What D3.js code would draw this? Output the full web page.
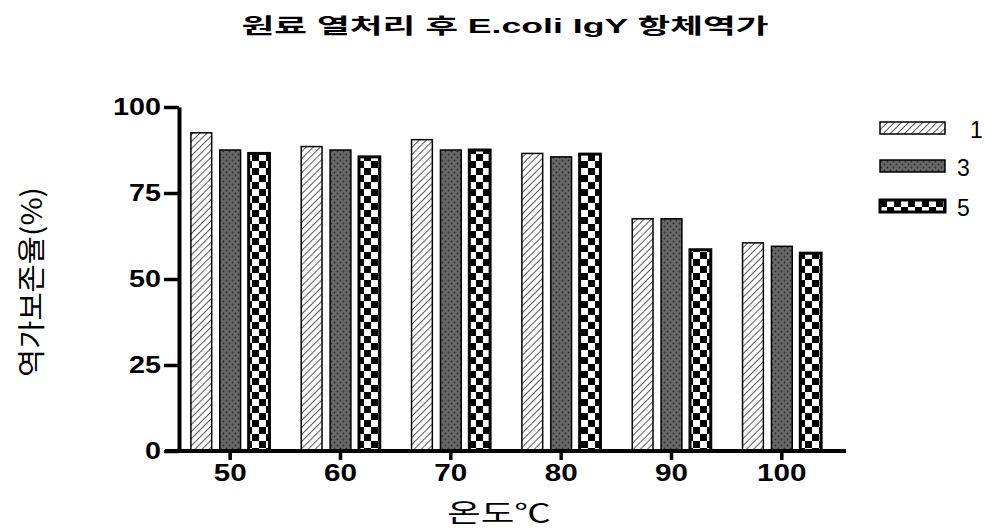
<!DOCTYPE html>
<html>
<head>
<meta charset="utf-8">
<script src="https://cdn.jsdelivr.net/npm/d3@7"></script>
<style>
  body { margin: 0; background: #fff; }
  text { fill: #000; }
</style>
</head>
<body>
<div id="chart"></div>
<script>
// temperatures (x categories) and the three series (1, 3, 5)
const temps = ["50", "60", "70", "80", "90", "100"];
const seriesNames = ["1", "3", "5"];
const s1 = [92.5, 88.5, 90.5, 86.5, 67.5, 60.5];
const s3 = [87.5, 87.5, 87.5, 85.5, 67.5, 59.5];
const s5 = [86.5, 85.5, 87.5, 86.3, 58.5, 57.5];
const yTicks = [0, 25, 50, 75, 100];

const W = 985, H = 531;
const kr = "'Noto Sans CJK KR', sans-serif";
const latin = "'Liberation Sans', Arial, sans-serif";

const svg = d3.select("#chart").append("svg")
    .attr("width", W)
    .attr("height", H);

// patterns
const defs = svg.append("defs");

const hatch = defs.append("pattern")
    .attr("id", "hatch")
    .attr("patternUnits", "userSpaceOnUse")
    .attr("width", 5).attr("height", 5)
    .attr("patternTransform", "rotate(45)");
hatch.append("rect").attr("width", 5).attr("height", 5).attr("fill", "#fff");
hatch.append("line").attr("x1", 0).attr("y1", 0).attr("x2", 0).attr("y2", 5)
    .attr("stroke", "#222").attr("stroke-width", 1.5);

const dots = defs.append("pattern")
    .attr("id", "dots")
    .attr("patternUnits", "userSpaceOnUse")
    .attr("width", 6).attr("height", 6);
dots.append("rect").attr("width", 6).attr("height", 6).attr("fill", "#686868");
dots.append("circle").attr("cx", 1.5).attr("cy", 1.5).attr("r", 0.9).attr("fill", "#2a2a2a");
dots.append("circle").attr("cx", 4.5).attr("cy", 4.5).attr("r", 0.9).attr("fill", "#2a2a2a");

const checker = defs.append("pattern")
    .attr("id", "checker")
    .attr("patternUnits", "userSpaceOnUse")
    .attr("width", 14).attr("height", 14);
checker.append("rect").attr("width", 14).attr("height", 14).attr("fill", "#fff");
checker.append("rect").attr("width", 7).attr("height", 7).attr("fill", "#000");
checker.append("rect").attr("x", 7).attr("y", 7).attr("width", 7).attr("height", 7).attr("fill", "#000");

const fills = { "1": "url(#hatch)", "3": "url(#dots)", "5": "url(#checker)" };
const strokes = { "1": 1.5, "3": 1.5, "5": 3 };

// scales
const x0 = d3.scaleBand()
    .domain(temps)
    .range([175, 837]);

const x1 = d3.scaleBand()
    .domain(seriesNames)
    .range([0, x0.bandwidth()])
    .paddingInner(0.28)
    .paddingOuter(0.55);

const y = d3.scaleLinear()
    .domain([0, 100])
    .range([451, 107]);

// build rows for bars
let rows = [];
for (var i = 0; i < temps.length; i++) {
    rows.push({ temp: temps[i], key: "1", value: s1[i] });
    rows.push({ temp: temps[i], key: "3", value: s3[i] });
    rows.push({ temp: temps[i], key: "5", value: s5[i] });
}

svg.append("g")
    .selectAll("rect")
    .data(rows)
    .join("rect")
    .attr("x", d => x0(d.temp) + x1(d.key))
    .attr("y", d => y(d.value))
    .attr("width", x1.bandwidth())
    .attr("height", d => y(0) - y(d.value))
    .attr("fill", d => fills[d.key])
    .attr("stroke", "#000")
    .attr("stroke-width", d => strokes[d.key]);

// y axis
const yAxis = d3.axisLeft(y)
    .tickValues(yTicks)
    .tickSize(15)
    .tickSizeOuter(0)
    .tickPadding(3);

const gy = svg.append("g")
    .attr("transform", "translate(179,0)")
    .call(yAxis);
gy.select(".domain").attr("stroke-width", 4).attr("stroke", "#000");
gy.selectAll(".tick line").attr("stroke-width", 3.5).attr("stroke", "#000");
gy.selectAll(".tick text")
    .attr("font-family", latin)
    .attr("font-weight", "bold")
    .attr("font-size", 23)
    .attr("textLength", d => String(d).length * 16)
    .attr("lengthAdjust", "spacingAndGlyphs");

// x axis
const xAxis = d3.axisBottom(x0)
    .tickSize(9)
    .tickSizeOuter(0)
    .tickPadding(5);

const gx = svg.append("g")
    .attr("transform", "translate(0,451)")
    .call(xAxis);
gx.select(".domain").remove();
gx.append("line")
    .attr("x1", 165).attr("x2", 846)
    .attr("stroke", "#000")
    .attr("stroke-width", 4);
gx.selectAll(".tick line").attr("stroke-width", 3.5).attr("stroke", "#000");
gx.selectAll(".tick text")
    .attr("font-family", latin)
    .attr("font-weight", "bold")
    .attr("font-size", 23)
    .attr("textLength", d => d.length * 16.5)
    .attr("lengthAdjust", "spacingAndGlyphs");

// title
svg.append("text")
    .attr("x", 505)
    .attr("y", 33)
    .attr("text-anchor", "middle")
    .attr("font-family", latin + ", " + kr)
    .attr("font-weight", "bold")
    .attr("font-size", 21)
    .attr("textLength", 527)
    .attr("lengthAdjust", "spacingAndGlyphs")
    .text("원료 열처리 후 E.coli IgY 항체역가");

// axis titles
svg.append("text")
    .attr("x", 499)
    .attr("y", 522)
    .attr("text-anchor", "middle")
    .attr("font-family", kr)
    .attr("font-size", 25)
    .attr("textLength", 104)
    .attr("lengthAdjust", "spacingAndGlyphs")
    .text("온도℃");

svg.append("text")
    .attr("transform", "translate(30,282) rotate(-90)")
    .attr("text-anchor", "middle")
    .attr("dominant-baseline", "central")
    .attr("font-family", kr)
    .attr("font-size", 28)
    .attr("textLength", 190)
    .attr("lengthAdjust", "spacingAndGlyphs")
    .text("역가보존율(%)");

// legend
const legendY = [122, 160, 200];
const legend = svg.append("g")
    .selectAll("g")
    .data(seriesNames)
    .join("g")
    .attr("transform", (d, i) => `translate(880,${legendY[i]})`);

legend.append("rect")
    .attr("width", 65)
    .attr("height", 12)
    .attr("fill", d => fills[d])
    .attr("stroke", "#000")
    .attr("stroke-width", d => strokes[d]);

legend.append("text")
    .attr("x", d => d == "1" ? 970 - 880 : 957 - 880)
    .attr("y", 16)
    .attr("font-family", latin)
    .attr("font-size", 23)
    .text(d => d);
</script>
</body>
</html>
